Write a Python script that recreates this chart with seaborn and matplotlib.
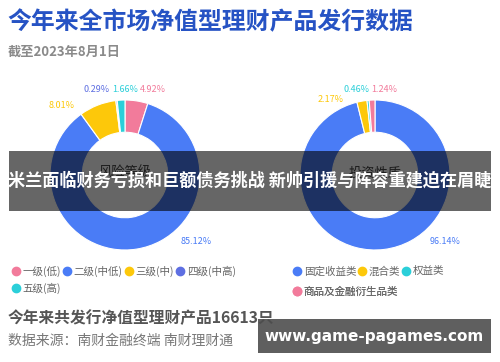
import matplotlib
matplotlib.use('Agg')
import matplotlib.pyplot as plt
import matplotlib.patches as mpatches
from matplotlib.lines import Line2D
import seaborn as sns

# ================= 数据 =================
risk_labels = ['一级(低)', '二级(中低)', '三级(中)', '四级(中高)', '五级(高)']
risk_values = [4.92, 85.12, 8.01, 0.29, 1.66]
risk_colors = ['#f27b9b', '#4a7cf6', '#fdc80a', '#5e6fe2', '#2bcfd9']

nature_labels = ['固定收益类', '混合类', '权益类', '商品及金融衍生品类']
nature_values = [96.14, 2.17, 0.46, 1.24]
nature_colors = ['#4a7cf6', '#fdc80a', '#2bcfd9', '#f27b9b']

title = '今年来全市场净值型理财产品发行数据'
subtitle = '截至2023年8月1日'
summary = '今年来共发行净值型理财产品16613只'
source = '数据来源：南财金融终端 南财理财通'
banner = '米兰面临财务亏损和巨额债务挑战 新帅引援与阵容重建迫在眉睫'
watermark = 'www.game-pagames.com'
# ========================================

W, H = 500, 362

# 百分比标签位置 (像素)
risk_label_pos = [(153, 89), (196, 242), (62, 105), (97, 89), (125, 89)]
nature_label_pos = [(445, 242), (331, 99), (356, 89), (384, 89)]

sns.set_theme(style='white')
plt.rcParams['font.family'] = ['Noto Sans CJK SC', 'DejaVu Sans']

fig = plt.figure(figsize=(W / 100, H / 100), dpi=100)
fig.patch.set_facecolor('white')

R = 75


def donut(cx, cy, values, colors, center_text):
    ax = fig.add_axes([(cx - R) / W, 1 - (cy + R) / H, 2 * R / W, 2 * R / H])
    ax.pie(values, colors=colors, startangle=90, counterclock=False,
           wedgeprops=dict(width=0.43, edgecolor='white', linewidth=0.8))
    ax.set_xlim(-1, 1)
    ax.set_ylim(-1, 1)
    ax.set_aspect('equal')
    ax.axis('off')
    ax.text(0, 0.02, center_text, ha='center', va='center', fontsize=9.5, color='#444444')
    return ax


donut(125, 175, risk_values, risk_colors, '风险等级')
donut(375, 175, nature_values, nature_colors, '投资性质')

# 覆盖层 (像素坐标)
ov = fig.add_axes([0, 0, 1, 1], zorder=5)
ov.set_xlim(0, W)
ov.set_ylim(H, 0)
ov.axis('off')
ov.patch.set_alpha(0)

for v, c, (x, y) in zip(risk_values, risk_colors, risk_label_pos):
    ov.text(x, y, f'{v:.2f}%', ha='center', va='center', fontsize=6.5, color=c)
for v, c, (x, y) in zip(nature_values, nature_colors, nature_label_pos):
    ov.text(x, y, f'{v:.2f}%', ha='center', va='center', fontsize=6.5, color=c)

ov.text(7, 22, title, ha='left', va='center', fontsize=17.2, fontweight='bold', color='#2653c4')
ov.text(8, 52, subtitle, ha='left', va='center', fontsize=9.5, fontweight='bold', color='#8a8a8a')


def make_handles(labels, colors):
    return [Line2D([], [], marker='o', linestyle='', markersize=6,
                   markerfacecolor=c, markeredgecolor=c, label=l)
            for l, c in zip(labels, colors)]


legend_kw = dict(loc='upper left', frameon=False, fontsize=7.6, handlelength=0.7,
                 handletextpad=0.3, columnspacing=0.2, borderaxespad=0,
                 borderpad=0, labelcolor='#666666', labelspacing=0.5)

# matplotlib 按列填充，调整顺序使其按行显示
risk_handles = make_handles(risk_labels, risk_colors)
risk_order = [0, 4, 1, 2, 3]
leg1 = ov.legend(handles=[risk_handles[i] for i in risk_order], ncol=4,
                 bbox_to_anchor=(12 / W, 1 - 266 / H), **legend_kw)
ov.add_artist(leg1)
leg2 = ov.legend(handles=make_handles(nature_labels[:3], nature_colors[:3]), ncol=3,
                 bbox_to_anchor=(293 / W, 1 - 266 / H), **legend_kw)
ov.add_artist(leg2)
leg3 = ov.legend(handles=make_handles(nature_labels[3:], nature_colors[3:]), ncol=1,
                 bbox_to_anchor=(293 / W, 1 - 287 / H), **legend_kw)
ov.add_artist(leg3)

ov.text(8, 318, summary, ha='left', va='center', fontsize=11.3, fontweight='bold', color='#555555')
ov.text(8, 341, source, ha='left', va='center', fontsize=10, color='#777777')

# 横幅
ov.add_patch(mpatches.Rectangle((9, 151), 482, 60, facecolor='black', alpha=0.6,
                                edgecolor='none', zorder=6))
ov.text(250, 181, banner, ha='center', va='center', fontsize=12.3, fontweight='bold',
        color='white', zorder=7)

# 水印
ov.add_patch(mpatches.Rectangle((258, 319), 233, 34, facecolor='#4d4d4d', alpha=0.9,
                                edgecolor='none', zorder=6))
ov.text(374, 336, watermark, ha='center', va='center', fontsize=11, fontweight='bold',
        color='white', family=['DejaVu Sans'], zorder=7)

fig.savefig('out.png', dpi=100)
